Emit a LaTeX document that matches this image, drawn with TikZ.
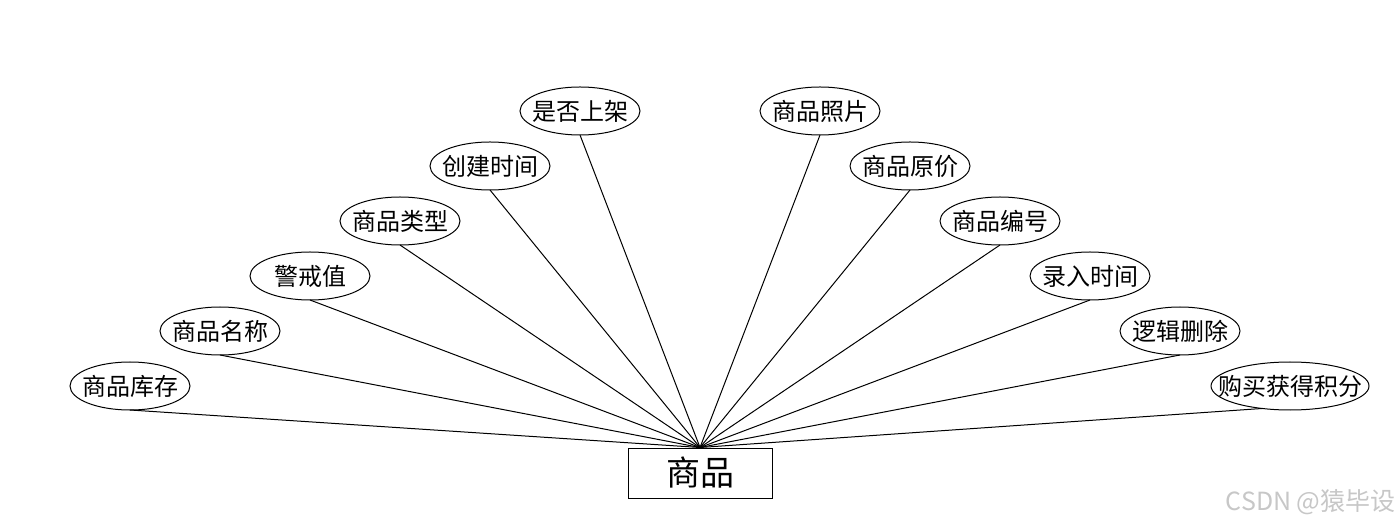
\documentclass[tikz,border=0pt]{standalone}
\usepackage{fontspec}
\setmainfont{Noto Sans CJK SC}
\usetikzlibrary{shapes.geometric,calc}
\begin{document}
\begin{tikzpicture}[x=0.5pt,y=-0.5pt,
  attr/.style={draw=black,line width=0.5pt,ellipse,minimum width=60pt,minimum height=24pt,inner sep=0pt,outer sep=0pt,
    label={[font=\fontsize{12}{13}\selectfont,inner sep=0pt]center:#1}},
  wideattr/.style={attr=#1,minimum width=79pt},
  ent/.style={draw=black,line width=0.5pt,rectangle,minimum width=72pt,minimum height=25pt,inner sep=0pt,font=\fontsize{17}{19}\selectfont},
  link/.style={draw=black,line width=0.5pt}]
\useasboundingbox (0,0) rectangle (1400,528);
\node[ent] (e) at (700,473) {商品};
\node[attr=商品库存] (n1) at (130,386) {};
\node[attr=商品名称] (n2) at (220,331) {};
\node[attr=警戒值] (n3) at (310,276) {};
\node[attr=商品类型] (n4) at (400,221) {};
\node[attr=创建时间] (n5) at (490,166) {};
\node[attr=是否上架] (n6) at (580,111) {};
\node[attr=商品照片] (n7) at (820,111) {};
\node[attr=商品原价] (n8) at (910,166) {};
\node[attr=商品编号] (n9) at (1000,221) {};
\node[attr=录入时间] (n10) at (1090,276) {};
\node[attr=逻辑删除] (n11) at (1180,331) {};
\node[wideattr=购买获得积分] (n12) at (1290,386) {};
\foreach \n in {n1,n2,n3,n4,n5,n6,n7,n8,n9,n10,n11}
  \draw[link] (\n.south) -- (e.north);
\draw[link] (n12.219) -- (e.north);
\node[text=black!22,font=\fontsize{12.5}{14}\selectfont,inner sep=0pt,anchor=east] (wm) at (1396,502) {CSDN @猿毕设};
\end{tikzpicture}
\end{document}
